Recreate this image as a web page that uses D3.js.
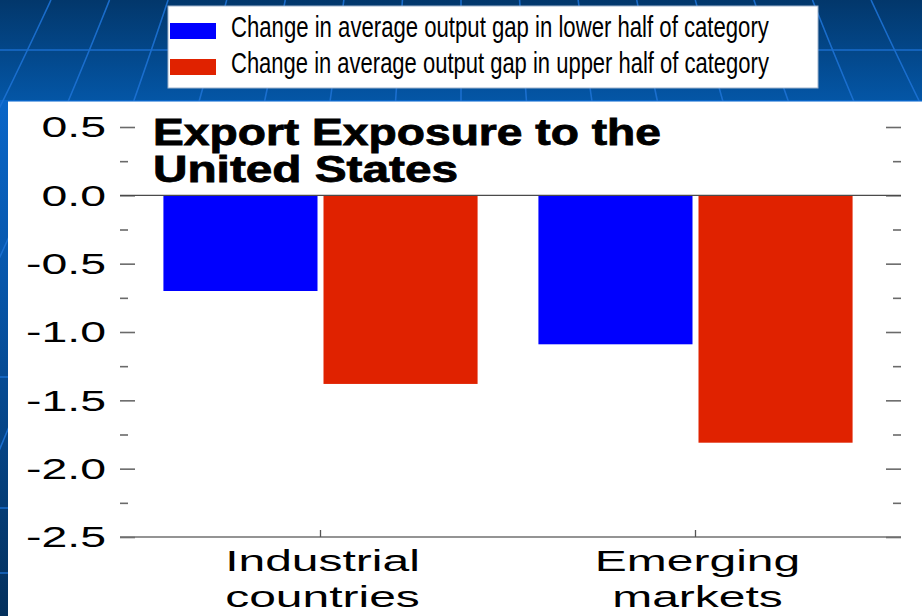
<!DOCTYPE html>
<html>
<head>
<meta charset="utf-8">
<script src="https://cdn.jsdelivr.net/npm/d3@7/dist/d3.min.js"></script>
<style>
  html, body { margin: 0; padding: 0; background: #fff; }
  svg { display: block; font-family: "Liberation Sans", Arial, sans-serif; }
</style>
</head>
<body>
<svg id="chart" width="922" height="616"></svg>
<script>
// Chart data
const categories = ["Industrial countries", "Emerging markets"];
const categoryLines = [["Industrial", "countries"], ["Emerging", "markets"]];
const seriesNames = [
  "Change in average output gap in lower half of category",
  "Change in average output gap in upper half of category"
];
const lowerHalf = [-0.70, -1.09];
const upperHalf = [-1.38, -1.81];
const yTickValues = [0.5, 0.0, -0.5, -1.0, -1.5, -2.0, -2.5];
const yTickLabels = ["0.5", "0.0", "-0.5", "-1.0", "-1.5", "-2.0", "-2.5"];
const yMinorValues = [0.25, -0.25, -0.75, -1.25, -1.75, -2.25];
const titleLines = ["Export Exposure to the", "United States"];
const seriesColors = ["#0000ff", "#e02200"];

const svg = d3.select("#chart");
const W = 922, H = 616;

// ---- slide background: blue globe ----
const defs = svg.append("defs");
const gTop = defs.append("linearGradient").attr("id", "bgTop")
  .attr("x1", 0).attr("y1", 0).attr("x2", 0).attr("y2", 1);
gTop.append("stop").attr("offset", "0%").attr("stop-color", "#02376b");
gTop.append("stop").attr("offset", "100%").attr("stop-color", "#0457a8");
const gSide = defs.append("linearGradient").attr("id", "bgSide")
  .attr("x1", 0).attr("y1", 0).attr("x2", 0).attr("y2", 1);
gSide.append("stop").attr("offset", "0%").attr("stop-color", "#0a66c8");
gSide.append("stop").attr("offset", "35%").attr("stop-color", "#0756aa");
gSide.append("stop").attr("offset", "100%").attr("stop-color", "#04305c");

svg.append("rect").attr("x", 0).attr("y", 0).attr("width", W).attr("height", 104)
  .attr("fill", "url(#bgTop)");
svg.append("rect").attr("x", 0).attr("y", 100).attr("width", W).attr("height", H - 100)
  .attr("fill", "url(#bgSide)");

// meridians radiating from a pole above the slide
const pole = [461, -834];
const meridianK = d3.range(-9, 10);
const grid = svg.append("g").attr("stroke", "#1d72d4").attr("stroke-width", 1.6)
  .attr("fill", "none").attr("opacity", 0.9);
meridianK.forEach(k => {
  const xAt = yy => pole[0] + 0.07 * k * (yy - pole[1]);
  const pts = d3.range(0, H + 1, 20).map(yy => [xAt(yy) + 0.00002 * k * (yy - 100) * (yy - 100), yy]);
  grid.append("path").attr("d", d3.line().curve(d3.curveBasis)(pts));
});
[50, 377, 508, 573].forEach(yy => {
  grid.append("line").attr("x1", 0).attr("x2", W).attr("y1", yy).attr("y2", yy);
});

// white chart panel
svg.append("rect").attr("x", 8).attr("y", 102).attr("width", W - 8).attr("height", H - 102)
  .attr("fill", "#ffffff");
svg.append("line").attr("x1", 8).attr("x2", W).attr("y1", 101.5).attr("y2", 101.5)
  .attr("stroke", "#7fb0e6").attr("stroke-width", 1);

// ---- legend ----
const legend = svg.append("g");
legend.append("rect").attr("x", 168).attr("y", 6).attr("width", 650).attr("height", 82)
  .attr("fill", "#ffffff").attr("stroke", "#9fb3cc").attr("stroke-width", 1);
seriesNames.forEach((name, i) => {
  const yy = 23 + i * 36;
  legend.append("rect").attr("x", 170).attr("y", yy).attr("width", 46).attr("height", 16)
    .attr("fill", seriesColors[i]);
  // condensed face: squeeze the text horizontally to its target width
  const tg = legend.append("g");
  const t = tg.append("text").attr("x", 0).attr("y", 0)
    .attr("font-size", 30).attr("fill", "#000").text(name);
  const natural = t.node().getComputedTextLength();
  tg.attr("transform", `translate(231,${yy + 14}) scale(${538 / natural},1)`);
});

// ---- scales ----
const y = d3.scaleLinear().domain([-2.5, 0.5]).range([537, 127]);
const x = d3.scaleBand().domain(categories).range([133, 883]).padding(0);
const xSub = d3.scaleBand().domain([0, 1]).range([0, x.bandwidth()])
  .paddingInner(0.0375).paddingOuter(0.19);

const plotLeft = 120, plotRight = 901;

// ---- axes ----
const leftAxis = d3.axisLeft(y).tickValues(yTickValues).tickSize(-15).tickFormat("");
const leftMinor = d3.axisLeft(y).tickValues(yMinorValues).tickSize(-8).tickFormat("");
const rightAxis = d3.axisRight(y).tickValues(yTickValues).tickSize(-15).tickFormat("");
const rightMinor = d3.axisRight(y).tickValues(yMinorValues).tickSize(-8).tickFormat("");

function styleAxis(g) {
  g.select(".domain").remove();
  g.selectAll(".tick line").attr("stroke", "#6a6a6a").attr("stroke-width", 1.6);
}
svg.append("g").attr("transform", `translate(${plotLeft},0)`).call(leftAxis).call(styleAxis);
svg.append("g").attr("transform", `translate(${plotLeft},0)`).call(leftMinor).call(styleAxis);
svg.append("g").attr("transform", `translate(${plotRight},0)`).call(rightAxis).call(styleAxis);
svg.append("g").attr("transform", `translate(${plotRight},0)`).call(rightMinor).call(styleAxis);

// y tick labels (wide face)
yTickValues.forEach((v, i) => {
  svg.append("g").attr("transform", `translate(106,${y(v)}) scale(1.6,1)`)
    .append("text").attr("text-anchor", "end").attr("dy", "0.36em")
    .attr("font-size", 29).attr("fill", "#000").text(yTickLabels[i]);
});

// ---- bars ----
const barData = [];
categories.forEach((c, ci) => {
  [lowerHalf[ci], upperHalf[ci]].forEach((v, si) => barData.push({ c, si, v }));
});
svg.append("g").selectAll("rect").data(barData).join("rect")
  .attr("x", d => x(d.c) + xSub(d.si))
  .attr("width", xSub.bandwidth())
  .attr("y", d => y(Math.max(0, d.v)))
  .attr("height", d => Math.abs(y(d.v) - y(0)))
  .attr("fill", d => seriesColors[d.si]);

// zero line and bottom axis line
svg.append("line").attr("x1", plotLeft).attr("x2", plotRight)
  .attr("y1", y(0)).attr("y2", y(0)).attr("stroke", "#4a4a4a").attr("stroke-width", 1.3);
svg.append("line").attr("x1", plotLeft).attr("x2", plotRight)
  .attr("y1", y(-2.5)).attr("y2", y(-2.5)).attr("stroke", "#707070").attr("stroke-width", 1.3);

// category ticks
const bottomAxis = d3.axisTop(x).tickSize(7).tickFormat("");
svg.append("g").attr("transform", `translate(0,${y(-2.5)})`).call(bottomAxis)
  .call(g => g.select(".domain").remove())
  .call(g => g.selectAll(".tick line").attr("stroke", "#555").attr("stroke-width", 1.3));

// category labels
categories.forEach((c, ci) => {
  categoryLines[ci].forEach((line, li) => {
    svg.append("g").attr("transform", `translate(${x(c) + x.bandwidth() / 2 + 2},${571 + li * 36}) scale(1.6,1)`)
      .append("text").attr("text-anchor", "middle")
      .attr("font-size", 30).attr("fill", "#000").text(line);
  });
});

// ---- title inside the panel ----
const titleLengths = [508, 305];
titleLines.forEach((t, i) => {
  svg.append("text").attr("x", 153).attr("y", 145 + i * 37)
    .attr("font-size", 36).attr("font-weight", "bold").attr("fill", "#000")
    .attr("stroke", "#000").attr("stroke-width", 0.8)
    .attr("textLength", titleLengths[i]).attr("lengthAdjust", "spacingAndGlyphs")
    .text(t);
});
</script>
</body>
</html>
